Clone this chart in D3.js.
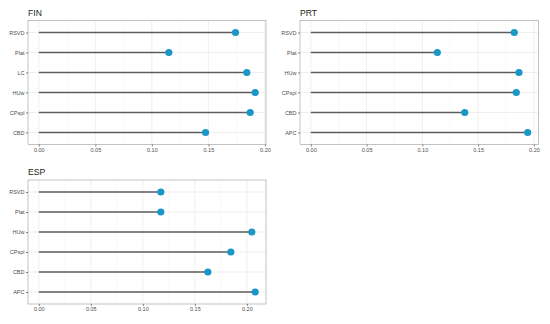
<!DOCTYPE html>
<html>
<head>
<meta charset="utf-8">
<script src="https://cdn.jsdelivr.net/npm/d3@7"></script>
<style>
  body { margin: 0; background: #fff; }
  svg { font-family: "Liberation Sans", Arial, sans-serif; }
</style>
</head>
<body>
<svg id="chart" width="550" height="324"></svg>
<script>
// 1) Data -----------------------------------------------------------
const finModels = ['RSVD', 'Plat', 'LC', 'HUw', 'CPspl', 'CBD'];
const finValues = [0.174, 0.115, 0.184, 0.1914, 0.187, 0.1475];

const prtModels = ['RSVD', 'Plat', 'HUw', 'CPspl', 'CBD', 'APC'];
const prtValues = [0.1824, 0.1134, 0.1866, 0.1842, 0.138, 0.1944];

const espModels = ['RSVD', 'Plat', 'HUw', 'CPspl', 'CBD', 'APC'];
const espValues = [0.1173, 0.1173, 0.2048, 0.1846, 0.1625, 0.208];

const xTicks = [0, 0.05, 0.10, 0.15, 0.20];
const xMinor = [0.025, 0.075, 0.125, 0.175];

// 2) Layout ---------------------------------------------------------
const svg = d3.select('#chart');

const panels = [
  { title: 'FIN', models: finModels, values: finValues, x0: 28, x1: 266, y0: 20.5, y1: 144.5 },
  { title: 'PRT', models: prtModels, values: prtValues, x0: 300, x1: 538.5, y0: 20.5, y1: 144.5 },
  { title: 'ESP', models: espModels, values: espValues, x0: 28, x1: 266, y0: 180, y1: 304 }
];

// 3) Draw each panel ------------------------------------------------
function drawPanel(p) {
  const g = svg.append('g');
  const maxV = d3.max(p.values);
  const pad = maxV * 0.05;

  const x = d3.scaleLinear()
    .domain([-pad, maxV + pad])
    .range([p.x0, p.x1]);

  const y = d3.scalePoint()
    .domain(p.models)
    .range([p.y0, p.y1])
    .padding(0.6);

  // grid
  g.selectAll('.minor')
    .data(xMinor.filter(v => v < maxV + pad))
    .enter().append('line')
    .attr('x1', d => x(d)).attr('x2', d => x(d))
    .attr('y1', p.y0).attr('y2', p.y1)
    .attr('stroke', '#f2f2f2')
    .attr('stroke-width', 0.5);

  g.selectAll('.major')
    .data(xTicks.filter(v => v < maxV + pad))
    .enter().append('line')
    .attr('x1', d => x(d)).attr('x2', d => x(d))
    .attr('y1', p.y0).attr('y2', p.y1)
    .attr('stroke', '#ebebeb')
    .attr('stroke-width', 0.8);

  g.selectAll('.hgrid')
    .data(p.models)
    .enter().append('line')
    .attr('x1', p.x0).attr('x2', p.x1)
    .attr('y1', d => y(d)).attr('y2', d => y(d))
    .attr('stroke', '#ebebeb')
    .attr('stroke-width', 0.8);

  // lollipops
  g.selectAll('.stem')
    .data(p.models)
    .enter().append('line')
    .attr('x1', x(0))
    .attr('x2', (d, i) => x(p.values[i]))
    .attr('y1', d => y(d)).attr('y2', d => y(d))
    .attr('stroke', '#5c5c5c')
    .attr('stroke-width', 1.3);

  g.selectAll('.dot')
    .data(p.models)
    .enter().append('circle')
    .attr('cx', (d, i) => x(p.values[i]))
    .attr('cy', d => y(d))
    .attr('r', 3.6)
    .attr('fill', '#1b97c6');

  // border
  g.append('rect')
    .attr('x', p.x0).attr('y', p.y0)
    .attr('width', p.x1 - p.x0).attr('height', p.y1 - p.y0)
    .attr('fill', 'none')
    .attr('stroke', '#b3b3b3')
    .attr('stroke-width', 0.8);

  // axes
  const xAxis = g.append('g')
    .attr('transform', `translate(0,${p.y1})`)
    .call(d3.axisBottom(x).tickValues(xTicks).tickFormat(d3.format('.2f')).tickSize(2).tickPadding(1.5));
  const yAxis = g.append('g')
    .attr('transform', `translate(${p.x0},0)`)
    .call(d3.axisLeft(y).tickSize(2).tickPadding(1.5));

  [xAxis, yAxis].forEach(a => {
    a.select('.domain').remove();
    a.selectAll('line').attr('stroke', '#333').attr('stroke-width', 0.6);
    a.selectAll('text')
      .attr('fill', '#4d4d4d')
      .style('font-size', '5.5px')
      .style('font-family', '"Liberation Sans", Arial, sans-serif');
  });

  // title
  g.append('text')
    .attr('x', p.x0)
    .attr('y', p.y0 - 5)
    .attr('fill', '#1a1a1a')
    .style('font-size', '8.6px')
    .text(p.title);
}

panels.forEach(drawPanel);
</script>
</body>
</html>
